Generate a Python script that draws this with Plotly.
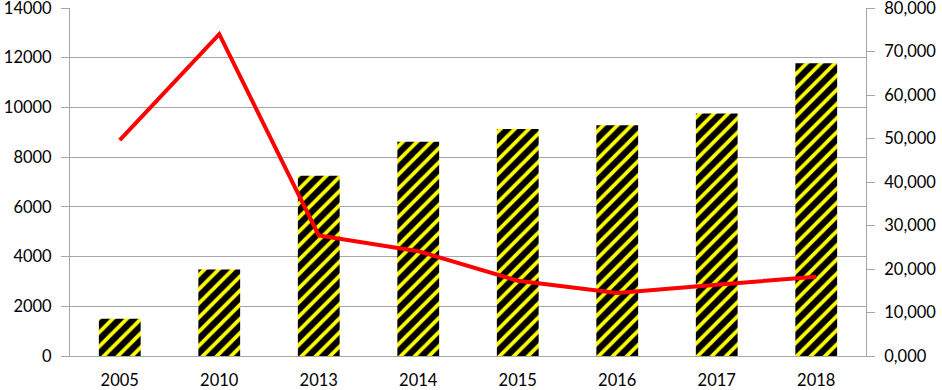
import plotly.graph_objects as go

years = ["2005", "2010", "2013", "2014", "2015", "2016", "2017", "2018"]
bar_values = [1500, 3480, 7250, 8620, 9130, 9280, 9760, 11780]
line_values = [49600, 74000, 27700, 24100, 17300, 14500, 16400, 18200]

left_ticks = [0, 2000, 4000, 6000, 8000, 10000, 12000, 14000]
left_labels = ["0", "2000", "4000", "6000", "8000", "10000", "12000", "14000"]
right_ticks = [0, 10000, 20000, 30000, 40000, 50000, 60000, 70000, 80000]
right_labels = ["0,000", "10,000", "20,000", "30,000", "40,000", "50,000", "60,000", "70,000", "80,000"]

fig = go.Figure()
fig.add_trace(go.Bar(
    x=years, y=bar_values, width=0.42,
    marker=dict(color="black", line=dict(width=0),
                pattern=dict(shape="/", fgcolor="#FFFF00", bgcolor="black", fgopacity=1,
                             size=10, solidity=0.38)),
    yaxis="y",
))
fig.add_trace(go.Scatter(
    x=years, y=line_values, mode="lines",
    line=dict(color="#FF0000", width=4),
    yaxis="y2",
))

axis_font = dict(family="Lato, Open Sans, sans-serif", size=16.5, color="black")
fig.update_layout(
    width=942, height=390,
    margin=dict(l=70, r=76, t=8, b=34),
    paper_bgcolor="white", plot_bgcolor="white",
    showlegend=False,
    xaxis=dict(showline=True, linecolor="#A6A6A6", linewidth=1, tickfont=axis_font,
               showgrid=False, ticks="", automargin=False, ticklabelstandoff=9),
    yaxis=dict(range=[0, 14000], tickvals=left_ticks, ticktext=left_labels,
               showgrid=True, gridcolor="#A6A6A6",
               gridwidth=1, showline=True, linecolor="#A6A6A6", ticks="outside",
               tickcolor="#A6A6A6", ticklen=8, tickfont=axis_font, zeroline=False,
               automargin=False, ticklabeloverflow="allow", ticklabelstandoff=6),
    yaxis2=dict(range=[0, 80000], tickvals=right_ticks, ticktext=right_labels,
                overlaying="y", side="right", showgrid=False, showline=True,
                linecolor="#A6A6A6", ticks="outside", tickcolor="#A6A6A6", ticklen=8,
                tickfont=axis_font, zeroline=False, automargin=False,
                ticklabeloverflow="allow", ticklabelstandoff=6),
)

fig.write_html("out.html", config={"displayModeBar": False},
               post_script="document.body.style.margin='0';document.body.style.overflow='hidden';")
